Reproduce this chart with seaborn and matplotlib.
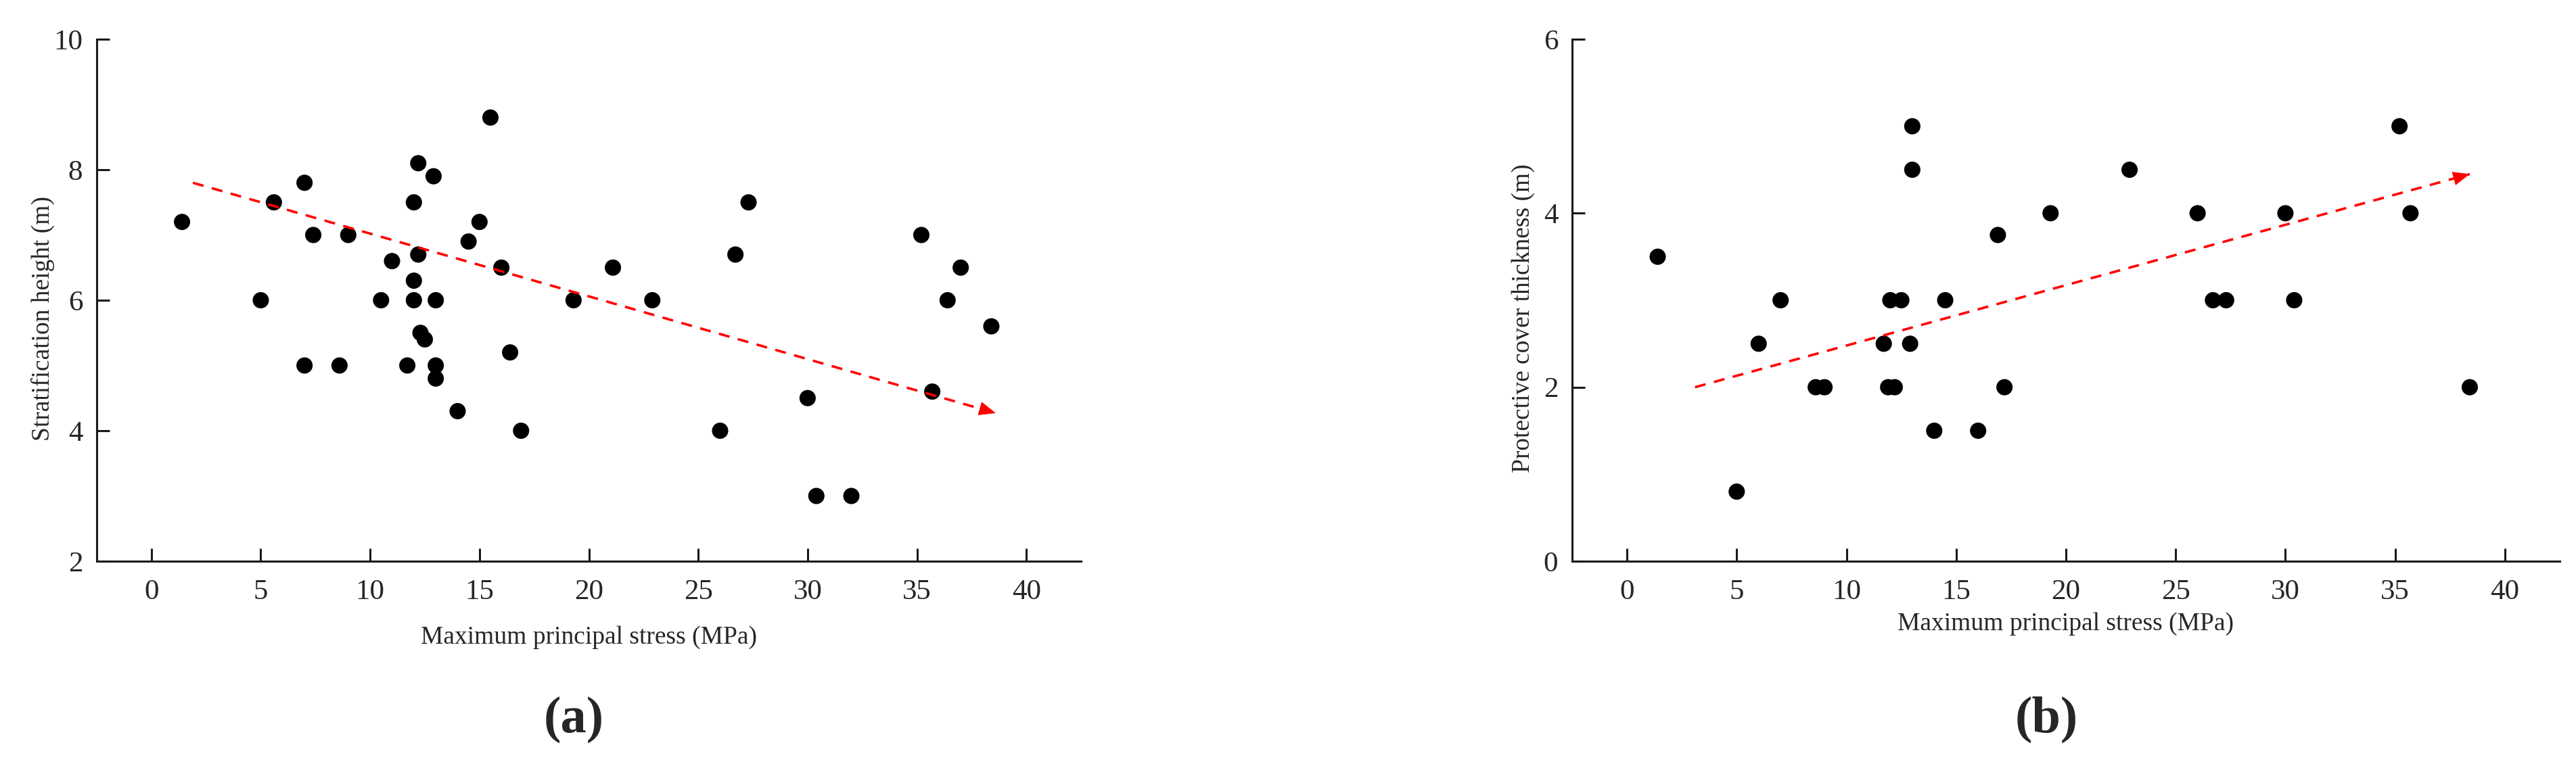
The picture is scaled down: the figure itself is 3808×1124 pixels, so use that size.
import numpy as np
import pandas as pd
import matplotlib
matplotlib.use('Agg')
import matplotlib.pyplot as plt
import seaborn as sns

# (a) maximum principal stress vs stratification height
stress_a = [1.4, 5.0, 5.6, 7.0, 7.0, 7.4, 8.6, 9.0, 10.5, 11.0, 11.7, 12.0, 12.0, 12.0,
            12.2, 12.2, 12.3, 12.5, 12.9, 13.0, 13.0, 13.0, 14.0, 14.5, 15.0, 15.5, 16.0,
            16.4, 16.9, 19.3, 21.1, 22.9, 26.0, 26.7, 27.3, 30.0, 30.4, 32.0, 35.2, 35.7,
            36.4, 37.0, 38.4]
height_a = [7.2, 6.0, 7.5, 7.8, 5.0, 7.0, 5.0, 7.0, 6.0, 6.6, 5.0, 7.5, 6.3, 6.0,
            8.1, 6.7, 5.5, 5.4, 7.9, 6.0, 5.0, 4.8, 4.3, 6.9, 7.2, 8.8, 6.5,
            5.2, 4.0, 6.0, 6.5, 6.0, 4.0, 6.7, 7.5, 4.5, 3.0, 3.0, 7.0, 4.6,
            6.0, 6.5, 5.6]

# (b) maximum principal stress vs protective cover thickness
stress_b = [1.4, 5.0, 6.0, 7.0, 8.6, 9.0, 11.7, 12.0, 11.9, 12.2, 12.5, 12.9, 13.0, 13.0,
            14.0, 14.5, 16.0, 16.9, 17.2, 19.3, 22.9, 26.0, 26.7, 27.3, 30.0, 30.4, 35.2,
            35.7, 38.4]
cover_b = [3.5, 0.8, 2.5, 3.0, 2.0, 2.0, 2.5, 3.0, 2.0, 2.0, 3.0, 2.5, 5.0, 4.5,
           1.5, 3.0, 1.5, 3.75, 2.0, 4.0, 4.5, 4.0, 3.0, 3.0, 4.0, 3.0, 5.0,
           4.0, 2.0]

# trend arrows: start -> end
trend_a_x = [1.9, 38.6]
trend_a_y = [7.8, 4.27]
trend_b_x = [3.1, 38.4]
trend_b_y = [2.0, 4.45]

x_ticks = [0, 5, 10, 15, 20, 25, 30, 35, 40]
y_ticks_a = [2, 4, 6, 8, 10]
y_ticks_b = [0, 2, 4, 6]

sns.set_style('ticks')
plt.rcParams['font.family'] = ['Liberation Serif', 'DejaVu Serif']

df_a = pd.DataFrame({'stress': stress_a, 'value': height_a})
df_b = pd.DataFrame({'stress': stress_b, 'value': cover_b})


def draw_panel(ax, df, tx, ty, yticks, ylabel, ylabel_x, xlabel_y):
    sns.scatterplot(data=df, x='stress', y='value', ax=ax, color='black',
                    s=300, edgecolor='none', zorder=3)
    ax.plot(tx, ty, color='red', lw=2.6, dashes=(4.5, 3.5), zorder=4)
    # arrow head at the end of the trend line
    ex, ey = tx[1], ty[1]
    bx = ex - (tx[1] - tx[0]) * 0.01
    by = ey - (ty[1] - ty[0]) * 0.01
    ax.annotate('', xy=(ex, ey), xytext=(bx, by),
                arrowprops=dict(arrowstyle='-|>,head_length=0.6,head_width=0.25',
                                color='red', lw=0.5, mutation_scale=28,
                                shrinkA=0, shrinkB=0), zorder=5)
    ax.set_xlim(-2.5, 42.5)
    ax.set_ylim(yticks[0], yticks[-1])
    ax.set_xticks(x_ticks)
    ax.set_yticks(yticks)
    sns.despine(ax=ax)
    for side in ['left', 'bottom']:
        ax.spines[side].set_linewidth(2.2)
        ax.spines[side].set_color('#1a1a1a')
    ax.tick_params(axis='both', direction='in', length=14, width=2.2,
                   color='#1a1a1a', labelsize=31)
    ax.tick_params(axis='x', pad=19)
    ax.tick_params(axis='y', pad=15)
    ax.set_xlabel('Maximum principal stress (MPa)', fontsize=27)
    ax.set_ylabel(ylabel, fontsize=27)
    ax.xaxis.set_label_coords(0.5, xlabel_y)
    ax.yaxis.set_label_coords(ylabel_x, 0.465)


fig = plt.figure(figsize=(38.08, 11.24), dpi=100)
ax1 = fig.add_axes([0.03755, 0.26157, 0.3821, 0.6868])
ax2 = fig.add_axes([0.61029, 0.26157, 0.3834, 0.6868])

draw_panel(ax1, df_a, trend_a_x, trend_a_y, y_ticks_a,
           'Stratification height (m)', -0.0426, -0.124)
draw_panel(ax2, df_b, trend_b_x, trend_b_y, y_ticks_b,
           'Protective cover thickness (m)', -0.038, -0.098)

fig.text(0.2227, 0.0534, '(a)', fontsize=55, fontweight='bold', ha='center', va='center')
fig.text(0.7944, 0.0534, '(b)', fontsize=55, fontweight='bold', ha='center', va='center')

fig.savefig('out.png', dpi=100)
plt.close(fig)
